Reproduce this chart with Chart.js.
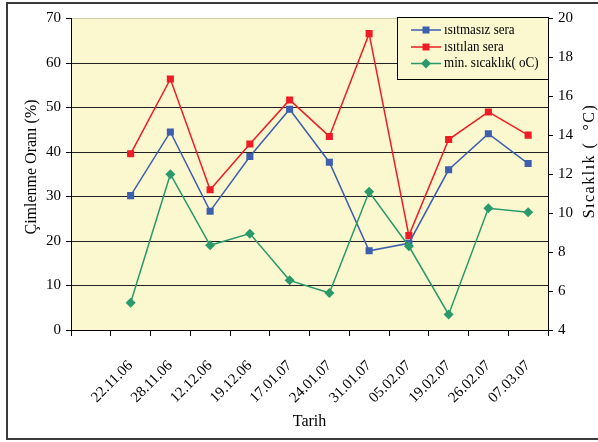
<!DOCTYPE html>
<html>
<head>
<meta charset="utf-8">
<script src="https://cdn.jsdelivr.net/npm/chart.js@4/dist/chart.umd.min.js"></script>
<style>
  html, body { margin: 0; padding: 0; background: #fff; }
  #wrap { position: relative; width: 598px; height: 442px; overflow: hidden; }
  #frame { position: absolute; left: 6px; top: 2px; width: 640px; height: 434px; border: 2px solid #3a3a3a; pointer-events: none; }
</style>
</head>
<body>
<div id="wrap">
  <canvas id="mycanvas" width="598" height="442"></canvas>
  <div id="frame"></div>
</div>
<script>
// first category slot is empty in the original chart
var dates = ['', '22.11.06', '28.11.06', '12.12.06', '19.12.06', '17.01.07', '24.01.07',
             '31.01.07', '05.02.07', '19.02.07', '26.02.07', '07.03.07'];
var unheated = [null, 30.2, 44.5, 26.7, 39.0, 49.6, 37.7, 17.8, 19.5, 36.0, 44.1, 37.4];
var heated   = [null, 39.6, 56.4, 31.5, 41.8, 51.7, 43.5, 66.6, 21.2, 42.8, 49.0, 43.8];
var minTemp  = [null, 5.4, 12.0, 8.35, 8.95, 6.55, 5.9, 11.1, 8.3, 4.8, 10.25, 10.05];

var seriesNames = ['ısıtmasız sera', 'ısıtılan sera', 'min. sıcaklık( oC)'];
var leftTicks = [0, 70, 10];
var rightTicks = [4, 20, 2];

var BLUE = '#3d5fae', RED = '#ee1d25', GREEN = '#2b9a6b', PLOT_BG = '#fbf7cf';
var SERIF = "'Liberation Serif', 'Times New Roman', serif";

Chart.defaults.font.family = SERIF;
Chart.defaults.color = '#000';

var plotBg = {
  id: 'plotBg',
  beforeDraw: function(chart){
    var a = chart.chartArea, ctx = chart.ctx;
    ctx.save();
    ctx.fillStyle = PLOT_BG;
    ctx.fillRect(a.left, a.top, a.right - a.left, a.bottom - a.top);
    ctx.restore();
  }
};

function marker(ctx, style, x, y, color){
  ctx.fillStyle = color;
  ctx.beginPath();
  if (style === 'rect') {
    ctx.rect(x - 3.5, y - 3.5, 7, 7);
  } else {
    ctx.moveTo(x, y - 5); ctx.lineTo(x + 5, y); ctx.lineTo(x, y + 5); ctx.lineTo(x - 5, y);
    ctx.closePath();
  }
  ctx.fill();
}

var extras = {
  id: 'extras',
  afterDraw: function(chart){
    var ctx = chart.ctx;
    ctx.save();
    // legend box
    ctx.fillStyle = PLOT_BG;
    ctx.fillRect(397, 17.5, 151, 62);
    ctx.strokeStyle = '#000';
    ctx.lineWidth = 1;
    ctx.strokeRect(397.5, 17.5, 151, 62);
    var ys = [30, 47, 63.5];
    chart.data.datasets.forEach(function(ds, i){
      ctx.strokeStyle = ds.borderColor;
      ctx.lineWidth = 1.5;
      ctx.beginPath();
      ctx.moveTo(411, ys[i]); ctx.lineTo(441, ys[i]);
      ctx.stroke();
      marker(ctx, ds.pointStyle, 426, ys[i], ds.borderColor);
      ctx.save();
      ctx.fillStyle = '#000';
      ctx.font = '15px ' + SERIF;
      ctx.textBaseline = 'middle';
      ctx.textAlign = 'left';
      ctx.translate(444, ys[i]);
      ctx.scale(0.87, 1);
      ctx.fillText(ds.label, 0, 0);
      ctx.restore();
    });
    // axis titles
    ctx.fillStyle = '#000';
    ctx.font = '16px ' + SERIF;
    ctx.textAlign = 'center';
    ctx.textBaseline = 'middle';
    ctx.save();
    ctx.translate(32, 167);
    ctx.rotate(-Math.PI / 2);
    ctx.fillText('Çimlenme Oranı (%)', 0, 0);
    ctx.restore();
    ctx.save();
    ctx.translate(590, 161);
    ctx.rotate(-Math.PI / 2);
    ctx.letterSpacing = '1.5px';
    ctx.fillText('Sıcaklık (  °C)', 0, 0);
    ctx.restore();
    ctx.restore();
  }
};

var ctx = document.getElementById('mycanvas');
var chart = new Chart(ctx, {
  type: 'line',
  data: {
    labels: dates,
    datasets: [
      { label: seriesNames[0], data: unheated, yAxisID: 'y', borderColor: BLUE, backgroundColor: BLUE,
        pointStyle: 'rect', pointRadius: 5, pointBorderWidth: 0, borderWidth: 1.5, order: 2 },
      { label: seriesNames[1], data: heated, yAxisID: 'y', borderColor: RED, backgroundColor: RED,
        pointStyle: 'rect', pointRadius: 5, pointBorderWidth: 0, borderWidth: 1.5, order: 3 },
      { label: seriesNames[2], data: minTemp, yAxisID: 'y1', borderColor: GREEN, backgroundColor: GREEN,
        pointStyle: 'rectRot', pointRadius: 5, pointBorderWidth: 0, borderWidth: 1.5, order: 1 }
    ]
  },
  options: {
    responsive: false,
    animation: false,
    devicePixelRatio: 1,
    layout: { padding: { top: 18.5, left: 0, right: 0, bottom: 0 } },
    plugins: { legend: { display: false }, tooltip: { enabled: false } },
    scales: {
      x: {
        offset: true,
        grid: { offset: true, drawOnChartArea: false, drawTicks: true, tickLength: 6, color: '#000' },
        border: { color: '#000', width: 1 },
        ticks: { autoSkip: false, minRotation: 45, maxRotation: 45, padding: 21, font: { size: 15 }, color: '#000' },
        title: { display: true, text: 'Tarih', font: { size: 16 }, color: '#000', padding: { top: 0, bottom: 11 } },
        afterFit: function(s){ s.height = 112; }
      },
      y: {
        position: 'left',
        min: leftTicks[0], max: leftTicks[1],
        ticks: { stepSize: leftTicks[2], padding: 5, font: { size: 15 }, color: '#000' },
        grid: {
          color: function(c){ return c.tick && c.tick.value === leftTicks[1] ? '#cfcba8' : '#222'; },
          tickColor: '#000', tickLength: 5
        },
        border: { color: '#000', width: 1 },
        afterFit: function(s){ s.width = 71; }
      },
      y1: {
        position: 'right',
        min: rightTicks[0], max: rightTicks[1],
        ticks: { stepSize: rightTicks[2], padding: 5, font: { size: 15 }, color: '#000' },
        grid: { drawOnChartArea: false, tickColor: '#000', tickLength: 5 },
        border: { color: '#000', width: 1 },
        afterFit: function(s){ s.width = 50; }
      }
    }
  },
  plugins: [plotBg, extras]
});
</script>
</body>
</html>
